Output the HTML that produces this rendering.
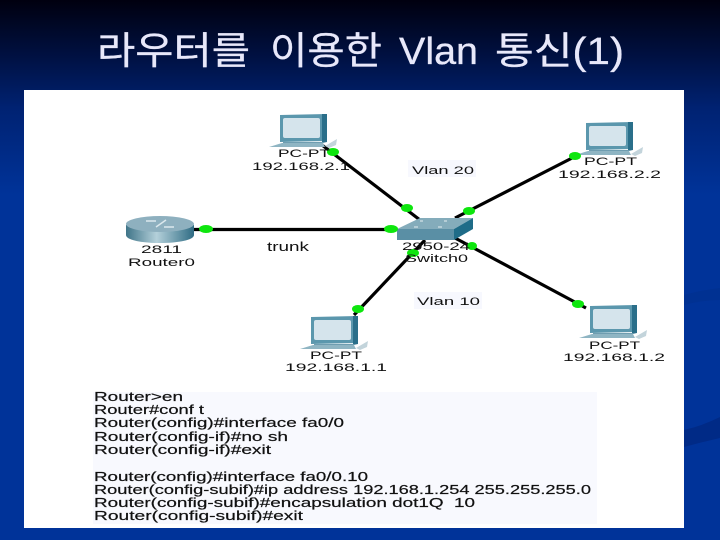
<!DOCTYPE html>
<html><head><meta charset="utf-8"><style>
html,body{margin:0;padding:0;width:720px;height:540px;overflow:hidden;background:#003399}
svg{display:block}
text{font-family:"Liberation Sans","Noto Sans CJK KR",sans-serif;fill:#111}
.t text{fill:#e8e8fa;stroke:#e8e8fa;stroke-width:.3}
</style></head><body>
<svg width="720" height="540" viewBox="0 0 720 540" xmlns="http://www.w3.org/2000/svg">
<defs>
<linearGradient id="bg" x1="0" y1="0" x2="0" y2="1"><stop offset="0" stop-color="#00000f"/><stop offset=".1" stop-color="#001040"/><stop offset=".2" stop-color="#002272"/><stop offset=".36" stop-color="#003399"/><stop offset="1" stop-color="#003399"/></linearGradient>
<linearGradient id="rt" x1="0" y1="0" x2="1" y2="0"><stop offset="0" stop-color="#3f7488"/><stop offset=".45" stop-color="#b4d0da"/><stop offset="1" stop-color="#2f6c84"/></linearGradient>
<g id="pc">
<path d="M4 1L51 0V27L4 28Z" fill="#5b97ad"/>
<path d="M46 0H51V28L46 29Z" fill="#2a6f8a"/>
<rect x="7" y="4" width="37" height="20" rx="2" fill="#d5e4ec"/>
<path d="M7 28H47V31H7Z" fill="#6f9db0"/>
<path d="M-7 33L6 29H47L49 33Z" fill="#8fb5c3"/>
<path d="M49 32L61 25 60 31 53 34Z" fill="#c3d4db"/>
</g>
</defs>
<rect width="720" height="540" fill="url(#bg)"/>
<path d="M684 430Q702 426 720 417V438Q702 442 684 447Z" fill="#002a86"/>
<path d="M684 295Q702 290 720 288V300Q702 300 684 305Z" fill="#003192"/>
<rect x="24" y="90" width="660" height="438" fill="#fff"/>
<g class="t" font-size="38">
<text x="97" y="64" textLength="153" lengthAdjust="spacingAndGlyphs">라우터를</text>
<text x="270" y="64" textLength="112" lengthAdjust="spacingAndGlyphs">이용한</text>
<text x="399" y="64" textLength="79" lengthAdjust="spacingAndGlyphs">Vlan</text>
<text x="495" y="64" textLength="129" lengthAdjust="spacingAndGlyphs">통신(1)</text>
</g>

<rect x="93" y="392" width="504" height="132" fill="#f8f9fe"/>
<rect x="408" y="160" width="68" height="17" fill="#f7f8fe"/>
<rect x="414" y="292" width="68" height="17" fill="#f7f8fe"/>

<g stroke="#000" stroke-width="3.200" fill="none">
<path d="M322 145L420 220"/>
<path d="M576 156L455 218"/>
<path d="M194 229.500H396"/>
<path d="M354 315L425 240"/>
<path d="M586 308L455 238"/>
</g>

<use href="#pc" x="276" y="114"/>
<use href="#pc" x="582" y="122"/>
<use href="#pc" x="307" y="316"/>
<use href="#pc" x="586" y="305"/>

<!-- router -->
<path d="M126 225V235C126 240 142 243 160 243S194 240 194 235V225Z" fill="url(#rt)"/>
<ellipse cx="160" cy="224" rx="34" ry="8" fill="#8eb0bf"/>
<path d="M146 221H156M164 227H174M166 220L156 227" stroke="#dbe8ed" stroke-width="1.500" fill="none"/>

<!-- switch -->
<path d="M397 229L420 218H473L454 229Z" fill="#84acbb"/>
<rect x="397" y="229" width="57" height="11" fill="#5a8fa5"/>
<path d="M454 229L473 218V229L454 240Z" fill="#1f6c88"/>
<path d="M414 227h4M438 227h4M420 221h3M444 221h3" stroke="#e4eef2" stroke-width="1"/>

<g fill="#0ee60e">
<ellipse cx="333" cy="152" rx="6" ry="4"/>
<ellipse cx="575" cy="156" rx="6" ry="4"/>
<ellipse cx="407" cy="208" rx="6" ry="4"/>
<ellipse cx="469" cy="211" rx="6" ry="4"/>
<ellipse cx="206" cy="229" rx="7" ry="4"/>
<ellipse cx="391" cy="229" rx="7" ry="4"/>
<ellipse cx="413" cy="253" rx="6" ry="4"/>
<ellipse cx="472" cy="246" rx="5" ry="4"/>
<ellipse cx="358" cy="309" rx="6" ry="4"/>
<ellipse cx="578" cy="304" rx="6" ry="4"/>
</g>

<g font-size="11">
<text x="278" y="157" textLength="52" lengthAdjust="spacingAndGlyphs">PC-PT</text>
<text x="252" y="170" textLength="98" lengthAdjust="spacingAndGlyphs">192.168.2.1</text>
<text x="584" y="165" textLength="53" lengthAdjust="spacingAndGlyphs">PC-PT</text>
<text x="558" y="178" textLength="103" lengthAdjust="spacingAndGlyphs">192.168.2.2</text>
<text x="310" y="359" textLength="52" lengthAdjust="spacingAndGlyphs">PC-PT</text>
<text x="285" y="371" textLength="102" lengthAdjust="spacingAndGlyphs">192.168.1.1</text>
<text x="589" y="349" textLength="51" lengthAdjust="spacingAndGlyphs">PC-PT</text>
<text x="563" y="361" textLength="102" lengthAdjust="spacingAndGlyphs">192.168.1.2</text>
<text x="141" y="253" textLength="41" lengthAdjust="spacingAndGlyphs">2811</text>
<text x="128" y="266" textLength="67" lengthAdjust="spacingAndGlyphs">Router0</text>
<text x="402" y="250" textLength="68" lengthAdjust="spacingAndGlyphs">2950-24</text>
<text x="405" y="262" textLength="63" lengthAdjust="spacingAndGlyphs">Switch0</text>
<text x="412" y="174" textLength="62" lengthAdjust="spacingAndGlyphs">Vlan 20</text>
<text x="417" y="305" textLength="63" lengthAdjust="spacingAndGlyphs">Vlan 10</text>
<text x="267" y="251" textLength="42" lengthAdjust="spacingAndGlyphs" font-size="13">trunk</text>
</g>

<g font-size="12.500" style="stroke:#111;stroke-width:.2">
<text x="94" y="401" textLength="89" lengthAdjust="spacingAndGlyphs">Router&gt;en</text>
<text x="94" y="414" textLength="110" lengthAdjust="spacingAndGlyphs">Router#conf t</text>
<text x="94" y="427" textLength="250" lengthAdjust="spacingAndGlyphs">Router(config)#interface fa0/0</text>
<text x="94" y="441" textLength="194" lengthAdjust="spacingAndGlyphs">Router(config-if)#no sh</text>
<text x="94" y="454" textLength="177" lengthAdjust="spacingAndGlyphs">Router(config-if)#exit</text>
<text x="94" y="481" textLength="274" lengthAdjust="spacingAndGlyphs">Router(config)#interface fa0/0.10</text>
<text x="94" y="494" textLength="497" lengthAdjust="spacingAndGlyphs">Router(config-subif)#ip address 192.168.1.254 255.255.255.0</text>
<text x="94" y="507" textLength="381" lengthAdjust="spacingAndGlyphs">Router(config-subif)#encapsulation dot1Q &#160;10</text>
<text x="94" y="520" textLength="209" lengthAdjust="spacingAndGlyphs">Router(config-subif)#exit</text>
</g>
</svg>
</body></html>
